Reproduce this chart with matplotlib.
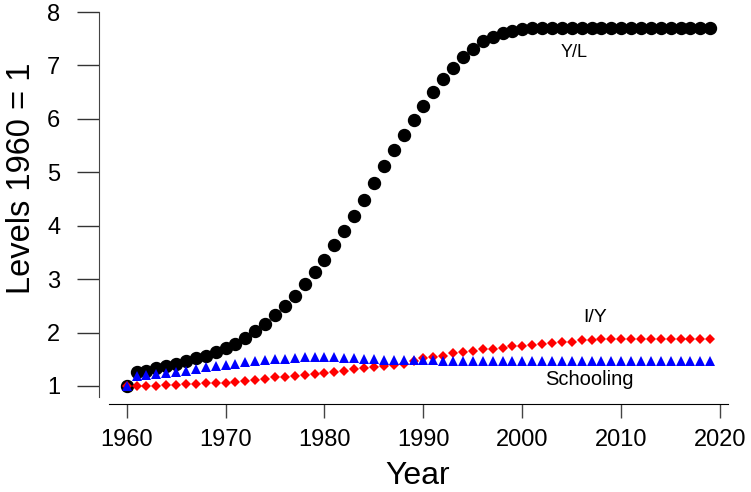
import numpy as np
import matplotlib
matplotlib.use('Agg')
import matplotlib.pyplot as plt

# data (levels, 1960 = 1)
years = np.arange(1960, 2020)

yl = [1.00, 1.26, 1.29, 1.33, 1.37, 1.42, 1.46, 1.52, 1.57, 1.64,
      1.71, 1.79, 1.90, 2.02, 2.16, 2.32, 2.49, 2.69, 2.90, 3.13,
      3.36, 3.64, 3.91, 4.18, 4.48, 4.80, 5.11, 5.42, 5.70, 5.98,
      6.24, 6.51, 6.75, 6.96, 7.15, 7.31, 7.45, 7.54, 7.60, 7.65,
      7.69, 7.70, 7.70, 7.70, 7.70, 7.70, 7.70, 7.70, 7.70, 7.70,
      7.70, 7.70, 7.70, 7.70, 7.70, 7.70, 7.70, 7.70, 7.70, 7.70]

iy = [1.00, 1.00, 1.00, 1.00, 1.02, 1.02, 1.03, 1.04, 1.05, 1.05,
      1.06, 1.08, 1.10, 1.11, 1.13, 1.16, 1.17, 1.19, 1.21, 1.22,
      1.25, 1.27, 1.29, 1.31, 1.33, 1.36, 1.37, 1.39, 1.42, 1.47,
      1.52, 1.55, 1.57, 1.61, 1.64, 1.66, 1.69, 1.70, 1.72, 1.74,
      1.75, 1.77, 1.78, 1.80, 1.82, 1.83, 1.87, 1.87, 1.88, 1.88,
      1.88, 1.88, 1.88, 1.88, 1.88, 1.88, 1.88, 1.88, 1.88, 1.88]

school = [1.00, 1.19, 1.21, 1.22, 1.25, 1.27, 1.29, 1.32, 1.35, 1.37,
          1.39, 1.41, 1.44, 1.46, 1.48, 1.50, 1.51, 1.52, 1.54, 1.55,
          1.55, 1.54, 1.53, 1.52, 1.51, 1.50, 1.49, 1.49, 1.49, 1.49,
          1.49, 1.49, 1.47, 1.47, 1.47, 1.47, 1.47, 1.47, 1.47, 1.47,
          1.47, 1.47, 1.47, 1.47, 1.47, 1.47, 1.47, 1.47, 1.47, 1.47,
          1.47, 1.47, 1.47, 1.47, 1.47, 1.47, 1.47, 1.47, 1.47, 1.47]

xticks = [1960, 1970, 1980, 1990, 2000, 2010, 2020]
yticks = [1, 2, 3, 4, 5, 6, 7, 8]

plt.rcParams['font.family'] = ['Liberation Sans', 'DejaVu Sans']

W, H = 751, 492
fig = plt.figure(figsize=(W / 100, H / 100), dpi=100, facecolor='w')
# axes box in pixels: left spine x=99, bottom spine y=404, top y=12, right x=728
ax = fig.add_axes([99 / W, (H - 404) / H, (728 - 99) / W, (404 - 12) / H])

ax.plot(years, yl, 'o', color='black', ms=8.6, mec='black', clip_on=False, zorder=3)
ax.plot(years, iy, 'D', color='red', ms=5.3, mew=0, clip_on=False, zorder=4)
ax.plot(years, school, '^', color='blue', ms=7.0, mew=0, clip_on=False, zorder=5)

# series labels
ax.text(2005.2, 7.16, 'Y/L', fontsize=13, ha='center', va='baseline')
ax.text(2007.35, 2.20, 'I/Y', fontsize=14, ha='center', va='baseline')
ax.text(2006.8, 1.02, 'Schooling', fontsize=14.5, ha='center', va='baseline')

ax.set_xlim(1957.2, 2020.8)
ax.set_ylim(0.663, 8.0)

# R-like detached axes
for s in ['top', 'right']:
    ax.spines[s].set_visible(False)
ax.spines['left'].set_bounds(0.79, 8.0)
ax.spines['bottom'].set_bounds(1958.2, 2020.8)
ax.spines['left'].set_color('#444444')
ax.spines['bottom'].set_color('black')

ax.set_xticks(xticks)
ax.set_yticks(yticks)
ax.tick_params(axis='y', length=15.8, width=1, pad=12, labelsize=17, color='#333333')
ax.tick_params(axis='x', length=10, width=1, pad=8, labelsize=17, color='#444444')

# axis titles
fig.text(418 / W, 0.002, 'Year', fontsize=23, ha='center', va='bottom')
fig.text(22 / W, 1 - 178 / H, 'Levels 1960 = 1', fontsize=23.5, rotation=90,
         ha='center', va='center')

fig.savefig('out.png', dpi=100, facecolor='w')
plt.close()
